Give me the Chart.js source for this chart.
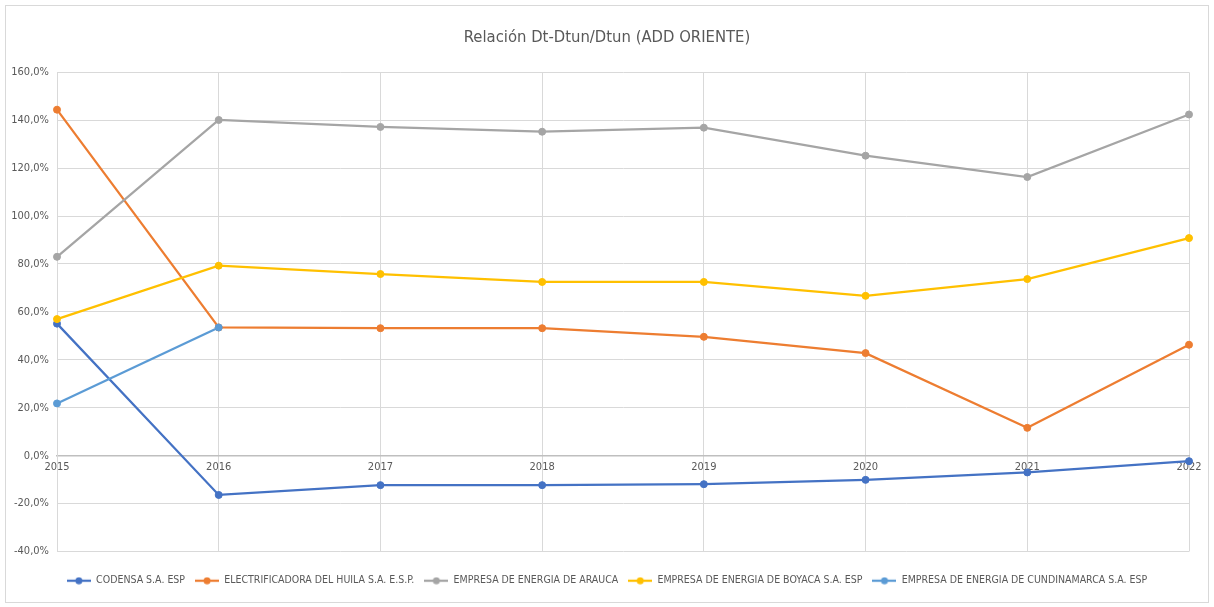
<!DOCTYPE html>
<html>
<head>
<meta charset="utf-8">
<title>Relación Dt-Dtun/Dtun</title>
<script src="https://cdn.jsdelivr.net/npm/chart.js@4.4.1/dist/chart.umd.min.js"></script>
<style>
    html, body { margin: 0; padding: 0; background: #fff; }
    #frame {
        position: absolute; left: 5px; top: 5px;
        width: 1204px; height: 598px;
        border: 1px solid #d9d9d9; box-sizing: border-box;
    }
    #wrap { position: absolute; left: 0; top: 0; width: 1202px; height: 596px; }
</style>
</head>
<body>
<div id="frame"><div id="wrap"><canvas id="chart"></canvas></div></div>
<script>
/* globals Chart */

// categories (years)
const years = [ '2015', '2016', '2017', '2018', '2019', '2020', '2021', '2022' ];

// series values, in percent
const codensa      = [ 55.1, -16.4, -12.3, -12.3, -11.9, -10.1, -7.0, -2.3 ];
const huila        = [ 144.4, 53.5, 53.2, 53.2, 49.6, 42.8, 11.6, 46.3 ];
const arauca       = [ 83.0, 140.1, 137.2, 135.2, 136.9, 125.2, 116.3, 142.4 ];
const boyaca       = [ 57.0, 79.3, 75.8, 72.5, 72.5, 66.7, 73.7, 90.8 ];
const cundinamarca = [ 21.8, 53.5, null, null, null, null, null, null ];

const seriesNames = [
    'CODENSA S.A. ESP',
    'ELECTRIFICADORA DEL HUILA S.A. E.S.P.',
    'EMPRESA DE ENERGIA DE ARAUCA',
    'EMPRESA DE ENERGIA DE BOYACA S.A. ESP',
    'EMPRESA DE ENERGIA DE CUNDINAMARCA S.A. ESP'
];
const seriesColors = [ '#4472c4', '#ed7d31', '#a5a5a5', '#ffc000', '#5b9bd5' ];

// y axis tick values
const yTicks = [ -40, -20, 0, 20, 40, 60, 80, 100, 120, 140, 160 ];

const FONT = "'Liberation Sans Narrow', 'DejaVu Sans Condensed', 'Liberation Sans', sans-serif";
Chart.defaults.font.family = FONT;
Chart.defaults.color = '#595959';

function fmtPct( v ){
    return v.toFixed( 1 ).replace( '.', ',' ) + '%';
}

// small line + dot marker for the legend
function legendMarker( color ){
    const c = document.createElement( 'canvas' );
    c.width = 24;
    c.height = 8;
    const g = c.getContext( '2d' );
    g.strokeStyle = color;
    g.lineWidth = 2.25;
    g.beginPath();
    g.moveTo( 0, 4 );
    g.lineTo( 24, 4 );
    g.stroke();
    g.fillStyle = color;
    g.beginPath();
    g.arc( 12, 4, 3.5, 0, Math.PI * 2 );
    g.fill();
    return c;
}

const values = [ codensa, huila, arauca, boyaca, cundinamarca ];

const datasets = values.map( function( vals, i ){
    return {
        label: seriesNames[i],
        data: vals,
        borderColor: seriesColors[i],
        backgroundColor: seriesColors[i],
        pointBackgroundColor: seriesColors[i],
        pointBorderColor: seriesColors[i],
        borderWidth: 2.25,
        pointRadius: 3.5,
        pointBorderWidth: 1,
        tension: 0,
        spanGaps: false,
        order: values.length - i  // later series on top, like Excel
    };
} );

const markers = seriesColors.map( legendMarker );

new Chart( document.getElementById( 'chart' ), {
    type: 'line',
    data: { labels: years, datasets: datasets },
    options: {
        responsive: true,
        maintainAspectRatio: false,
        animation: false,
        layout: { padding: { left: 0, right: 0, top: 0, bottom: 6 } },
        scales: {
            x: {
                type: 'category',
                position: { y: 0 },
                offset: false,
                grid: { color: '#d9d9d9', drawTicks: false },
                border: { color: '#bfbfbf', width: 1.5 },
                ticks: {
                    padding: 5,
                    autoSkip: false,
                    maxRotation: 0,
                    font: { size: 11 },
                    color: '#595959'
                }
            },
            xs: {
                type: 'category',
                position: 'bottom',
                grid: { display: false },
                border: { display: false },
                ticks: { display: false },
                afterFit: function( s ){ s.height = 14; }
            },
            y: {
                min: -40,
                max: 160,
                afterBuildTicks: function( s ){
                    s.ticks = yTicks.map( function( v ){ return { value: v }; } );
                },
                afterFit: function( s ){ s.width = 51; },
                grid: { color: '#d9d9d9', drawTicks: false },
                border: { color: '#d9d9d9' },
                ticks: {
                    padding: 8,
                    font: { size: 11 },
                    color: '#595959',
                    callback: function( v ){ return fmtPct( v ); }
                }
            },
            yr: {
                position: 'right',
                grid: { display: false },
                border: { display: false },
                ticks: { display: false },
                afterFit: function( s ){ s.width = 19; }
            }
        },
        plugins: {
            title: {
                display: true,
                text: 'Relación Dt-Dtun/Dtun (ADD ORIENTE)',
                color: '#595959',
                font: { size: 16.5, weight: 'normal', lineHeight: 1.2 },
                padding: { top: 22, bottom: 24.5 }
            },
            legend: {
                position: 'bottom',
                labels: {
                    usePointStyle: true,
                    pointStyleWidth: 24,
                    padding: 10,
                    font: { size: 10.5 },
                    color: '#595959',
                    sort: function( a, b ){ return a.datasetIndex - b.datasetIndex; },
                    generateLabels: function( chart ){
                        const items = Chart.defaults.plugins.legend.labels.generateLabels( chart );
                        items.forEach( function( it ){
                            it.pointStyle = markers[it.datasetIndex];
                        } );
                        return items;
                    }
                }
            },
            tooltip: { enabled: false }
        }
    }
} );
</script>
</body>
</html>
